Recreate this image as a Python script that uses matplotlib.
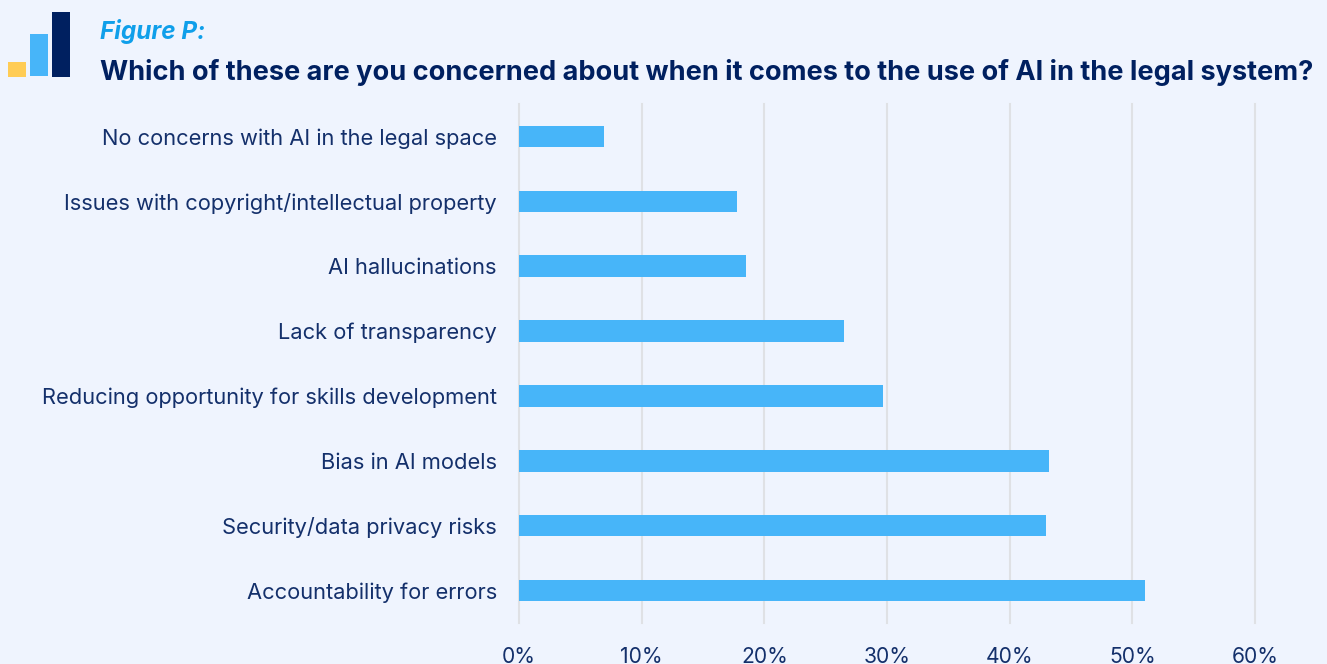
import matplotlib
matplotlib.use("Agg")
import matplotlib.pyplot as plt
from matplotlib.patches import Rectangle

W, H = 1327, 664
BG = "#EFF4FE"
NAVY = "#002060"
TEXT = "#14306B"
BLUE = "#47B5F9"
GOLD = "#FFCC55"
SKY = "#0F9FEA"

categories = [
    "Accountability for errors",
    "Security/data privacy risks",
    "Bias in AI models",
    "Reducing opportunity for skills development",
    "Lack of transparency",
    "AI hallucinations",
    "Issues with copyright/intellectual property",
    "No concerns with AI in the legal space",
]
values = [51.0, 43.0, 43.2, 29.7, 26.5, 18.5, 17.8, 6.9]
ticks = [0, 10, 20, 30, 40, 50, 60]

plt.rcParams["font.family"] = ["Inter", "DejaVu Sans"]

fig = plt.figure(figsize=(W / 100, H / 100), dpi=100, facecolor=BG)
ax = fig.add_axes([519 / W, 1 - 623 / H, (1255 - 519) / W, (623 - 104) / H])
ax.set_facecolor(BG)

ax.barh(range(len(values)), values, height=0.33, color=BLUE, zorder=3)
ax.set_xlim(0, 60)
ax.set_ylim(-0.5, len(values) - 0.5)

ax.set_xticks(ticks)
ax.set_xticklabels([f"{t}%" for t in ticks], fontsize=15.2, color=TEXT)
ax.set_yticks(range(len(values)))
ax.set_yticklabels(categories, fontsize=15.75, color=TEXT)
ax.tick_params(axis="both", length=0)
ax.tick_params(axis="x", pad=17)
ax.tick_params(axis="y", pad=16)
ax.grid(axis="x", color="#DFE1E5", linewidth=1.5, zorder=0, clip_on=False)
for s in ax.spines.values():
    s.set_visible(False)

# small bar logo in the top left corner, placed in pixels
for x0, y0, w, h, c in [(8, 62, 18, 15, GOLD), (30, 34, 18, 42, BLUE), (52, 12, 18, 65, NAVY)]:
    fig.add_artist(Rectangle((x0 / W, 1 - (y0 + h) / H), w / W, h / H,
                             transform=fig.transFigure, color=c, linewidth=0))

fig.text(100 / W, 1 - 32 / H, "Figure P:", fontsize=17.5, fontweight="bold",
         fontstyle="italic", color=SKY, va="center", ha="left")
fig.text(100 / W, 1 - 72 / H,
         "Which of these are you concerned about when it comes to the use of AI in the legal system?",
         fontsize=19.55, fontweight="bold", color=NAVY, va="center", ha="left")

fig.savefig("out.png", dpi=100, facecolor=BG)
